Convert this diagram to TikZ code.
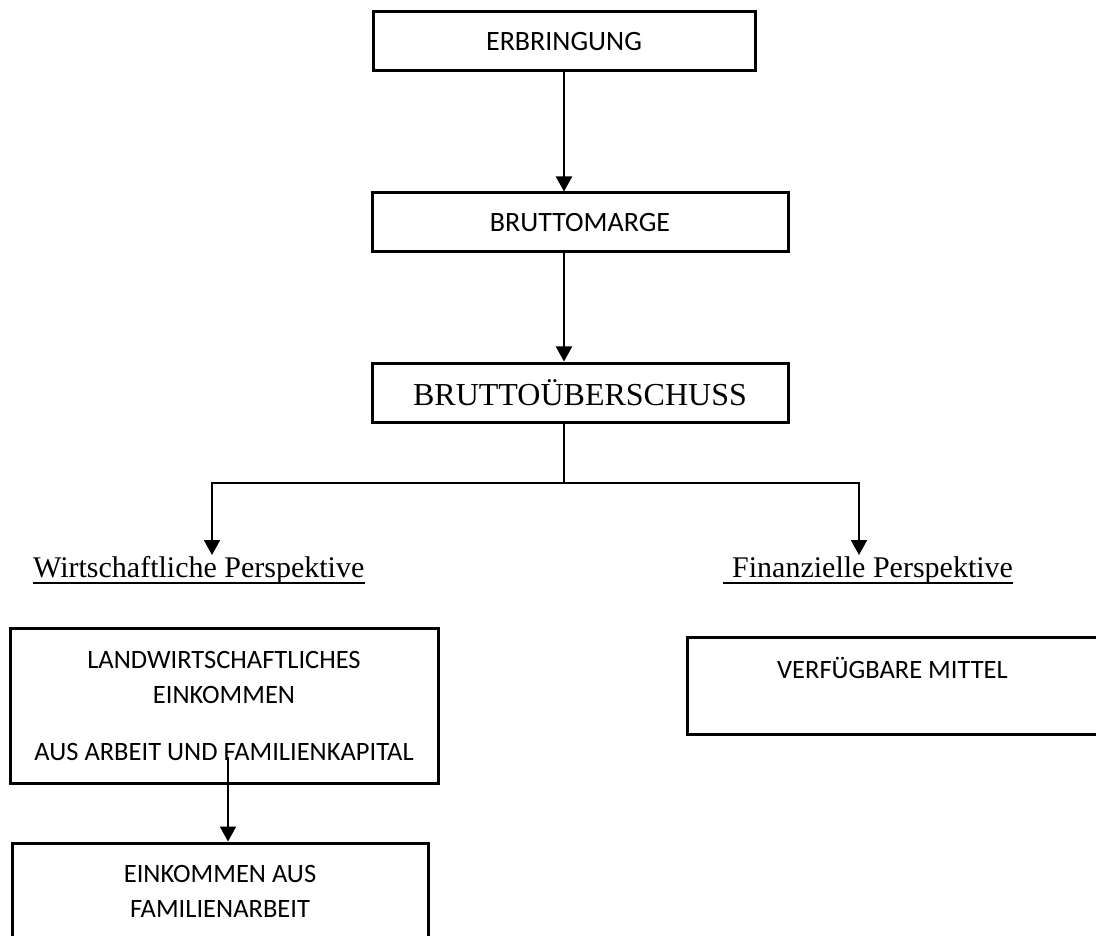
\documentclass[tikz,border=0pt]{standalone}
\usepackage{fontspec}
\setmainfont{Carlito}
\newfontfamily\timesfont{Liberation Serif}
\usetikzlibrary{arrows.meta}

\begin{document}
\begin{tikzpicture}[x=1pt,y=-1pt,
  box/.style={draw,line width=3pt,inner sep=0pt,align=center},
  big/.style={font=\fontsize{28}{35}\selectfont},
  small/.style={font=\fontsize{26.5}{35}\selectfont},
  persp/.style={anchor=base west,inner sep=0pt,font=\timesfont\fontsize{30}{36}\selectfont},
  link/.style={line width=2pt},
  arr/.style={link,-{Triangle[width=16pt,length=15pt]}}]
\useasboundingbox (0,0) rectangle (1096,936);
\node[box,big,minimum width=382pt,minimum height=59pt] (erb) at (564,41.5) {ERBRINGUNG};
\node[box,big,minimum width=416pt,minimum height=59pt] (marge) at (580,222.5) {BRUTTOMARGE};
\node[box,minimum width=416pt,minimum height=59pt,font=\timesfont\fontsize{32}{38}\selectfont] (ueb) at (580,392.5) {BRUTTOÜBERSCHUSS};
\draw[arr] (erb.south) -- (marge.north -| erb.south);
\draw[arr] (marge.south -| erb.south) -- (ueb.north -| erb.south);
% split into the two views
\coordinate (fork) at (564,483);
\coordinate (wtip) at (212,555);
\coordinate (ftip) at (859,555);
\draw[link] (ueb.south -| fork) -- (fork);
\draw[arr] (fork) -| (wtip);
\draw[arr] (fork) -| (ftip);
\node[persp] (wirt) at (33,577) {Wirtschaftliche Perspektive};
\node[persp] (fin) at (732,577) {Finanzielle Perspektive};
\draw[line width=1.6pt] ([yshift=-6pt]wirt.base west) -- ([yshift=-6pt]wirt.base east);
\draw[line width=1.6pt] ([xshift=-9pt,yshift=-6pt]fin.base west) -- ([yshift=-6pt]fin.base east);
\node[box,small,minimum width=428pt,minimum height=155pt] (landw) at (224,705.5)
  {LANDWIRTSCHAFTLICHES\\EINKOMMEN\\[22pt]AUS ARBEIT UND FAMILIENKAPITAL};
\node[box,small,minimum width=411pt,minimum height=97pt] (verf) at (892.5,685.5)
  {VERFÜGBARE MITTEL\\ \mbox{}};
\node[box,small,minimum width=416pt,minimum height=96pt] (eink) at (220,891)
  {EINKOMMEN AUS\\FAMILIENARBEIT};
\coordinate (src) at (228,757);
\draw[arr] (src) -- (eink.north -| src);
\end{tikzpicture}
\end{document}
